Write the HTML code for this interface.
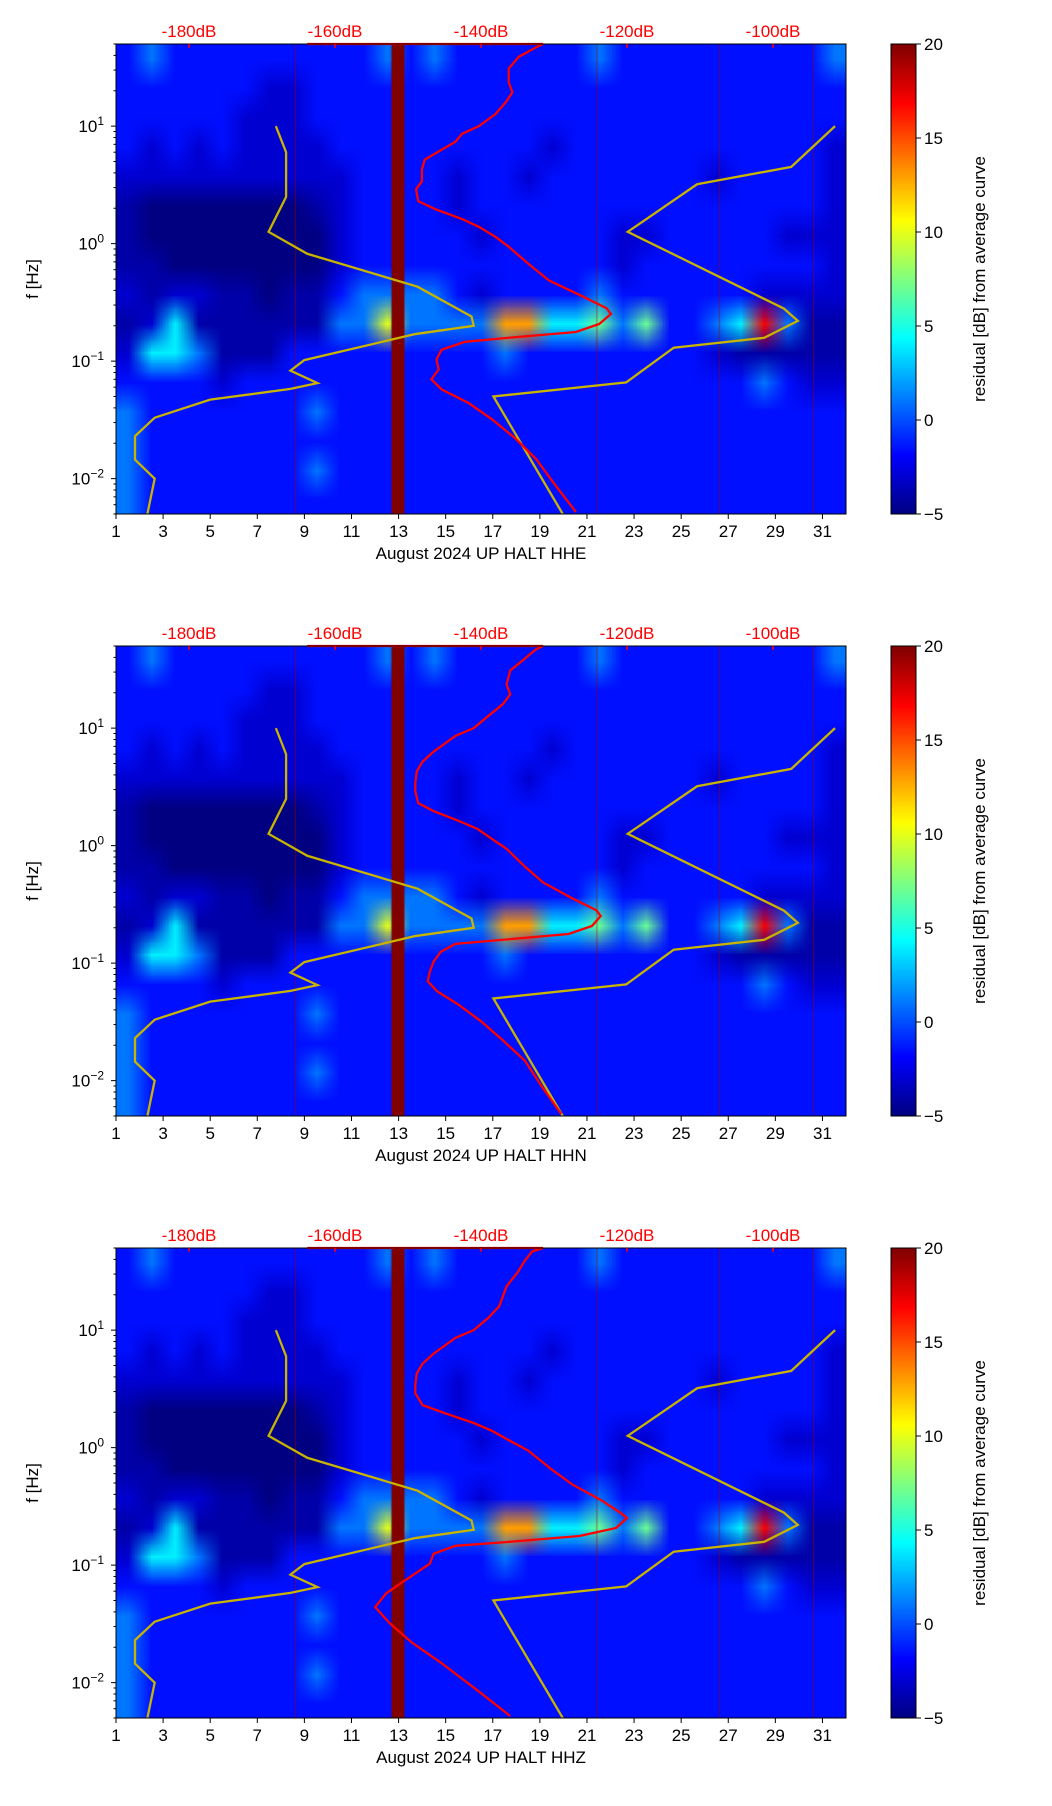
<!DOCTYPE html>
<html><head><meta charset="utf-8"><style>
body{margin:0;background:#fff;}
#wrap{position:relative;width:1052px;height:1806px;overflow:hidden;font-family:"Liberation Sans","DejaVu Sans",sans-serif;}
canvas{position:absolute;}
svg{position:absolute;left:0;top:0;}
</style></head><body>
<div id="wrap">
<svg id="svg" width="1052" height="1806"></svg>
</div>
<script>
// ---- data ----
const stations = ["HHE","HHN","HHZ"];
const dayTicks = [1,3,5,7,9,11,13,15,17,19,21,23,25,27,29,31];
const dbTicks = [-180,-160,-140,-120,-100];
const cbTicks = [20,15,10,5,0,-5];
const yTickExp = [-2,-1,0,1];
// heatmap rows (top 50Hz -> bottom 0.005Hz), columns = days 1..31, codes map to residual dB
const codeValues = [-5,-4,-3,-1.5,1,4,7,10,13,17];
const heatRows = [
"3433333333343433333343333333334",
"3333332233333333333333333333333",
"3333322233333333333333333333333",
"3232322223333333332333333333332",
"2222222222333323323333333233332",
"1000000012333323333333333333332",
"1000000002333332333332233333222",
"1100000002333333333332333333332",
"2122110113444432333343333332222",
"1251111114474444885564633459411",
"2554111333333333433333333211111",
"3333233333333333333333333334322",
"4333333343333333333333333333333",
"4333333333333333333333333333333",
"4333333343333333333333333333333",
"4333333333333333333333333333333"];
const gapDays = [12.7,13.25];
const redLineDays = [8.6,21.4,26.6,30.6];
// Peterson noise models (dB vs Hz)
const nlnmDb = [-185.7,-184.7,-187.4,-187.4,-184.7,-177.1,-166.1,-162.4,-166.1,-164.2,-149.0,-141.0,-141.3,-148.7,-163.8,-169.1,-166.7,-166.7,-168.1];
const nlnmF  = [0.005,0.01,0.0145,0.023,0.033,0.047,0.058,0.065,0.083,0.102,0.17,0.2,0.24,0.43,0.82,1.26,2.5,6.0,10];
const nhnmDb = [-128.8,-138.3,-120.1,-113.6,-101.2,-96.6,-98.5,-119.9,-110.4,-97.5,-91.5];
const nhnmF  = [0.005,0.05,0.066,0.13,0.158,0.22,0.28,1.26,3.2,4.5,10];
// station mean curves
const redF = [50,50,46.7,39,30.9,23.6,19.4,16,12.7,10,8.6,7.36,6.3,5.19,4.28,3.39,2.9,2.3,1.97,1.62,1.39,1.14,0.94,0.664,0.486,0.356,0.282,0.252,0.207,0.177,0.158,0.146,0.125,0.103,0.085,0.07,0.0575,0.044,0.032,0.022,0.0148,0.0086,0.0052];
const redDb1 = [-163.8,-131.5,-132.5,-134.8,-136.2,-136.2,-135.7,-136.6,-138.0,-140.3,-142.6,-143.5,-145.4,-147.7,-148.1,-148.1,-148.9,-148.6,-146.3,-142.6,-140.3,-138.0,-136.2,-133.4,-130.7,-126.1,-122.8,-122.2,-123.8,-127.0,-136.2,-142.2,-145.4,-146.1,-145.8,-146.8,-145.4,-141.7,-138.5,-135.3,-132.5,-129.7,-127.0];
const redDb2 = [-163.8,-131.5,-132.5,-134.0,-136.0,-136.5,-136.0,-137.0,-139.0,-141.0,-143.5,-145.0,-146.5,-148.0,-148.8,-149.0,-149.0,-148.6,-146.5,-143.0,-140.5,-138.5,-136.5,-134.0,-131.5,-127.5,-124.2,-123.6,-124.8,-128.0,-137.0,-143.5,-145.5,-146.5,-147.0,-147.3,-146.0,-143.0,-140.0,-137.0,-134.0,-131.5,-129.0];
const redDb3 = [-163.8,-131.5,-133.0,-134.0,-135.0,-136.5,-137.0,-137.5,-139.0,-141.0,-143.5,-145.0,-146.5,-148.0,-148.8,-149.0,-149.0,-148.0,-145.0,-141.0,-138.5,-136.0,-133.5,-130.5,-127.5,-123.5,-121.0,-120.0,-121.5,-126.5,-136.0,-143.5,-146.5,-147.0,-149.0,-151.0,-153.0,-154.5,-152.5,-149.5,-145.5,-140.5,-136.0];
const redDbs = [redDb1, redDb2, redDb3];

// ---- layout ----
const L=116, R=846, H=470, tops=[44,646,1248];
const logTop=Math.log10(50), logBot=Math.log10(0.005);
const svg=document.getElementById('svg');
const NS='http://www.w3.org/2000/svg';
function el(tag,attrs,parent){const e=document.createElementNS(NS,tag);for(const k in attrs)e.setAttribute(k,attrs[k]);(parent||svg).appendChild(e);return e;}
function jet(t){t=Math.max(0,Math.min(1,t));const c=v=>Math.round(255*Math.max(0,Math.min(1,v)));return [c(1.5-Math.abs(4*t-3)),c(1.5-Math.abs(4*t-2)),c(1.5-Math.abs(4*t-1))];}
function valT(v){return (v+5)/25;}

stations.forEach((st,p)=>{
  const T=tops[p], B=T+H;
  const xDay=d=>L+(d-1)/31*(R-L);
  const xDb=db=>L+(db+190)/100*(R-L);
  const yF=f=>T+(logTop-Math.log10(f))/(logTop-logBot)*H;
  const small=document.createElement('canvas');small.width=31;small.height=heatRows.length;
  const sc=small.getContext('2d');const img=sc.createImageData(31,heatRows.length);
  heatRows.forEach((row,ri)=>{for(let ci=0;ci<31;ci++){const [r,g,b]=jet(valT(codeValues[+row[ci]]));const i=(ri*31+ci)*4;img.data[i]=r;img.data[i+1]=g;img.data[i+2]=b;img.data[i+3]=255;}});
  sc.putImageData(img,0,0);
  const cv=document.createElement('canvas');cv.width=R-L;cv.height=H;cv.style.left=L+'px';cv.style.top=T+'px';
  
  
  const ctx=cv.getContext('2d');ctx.imageSmoothingEnabled=true;ctx.drawImage(small,0,0,R-L,H);
  const gc=jet(1);ctx.fillStyle='rgb('+gc.join(',')+')';
  ctx.fillRect(xDay(gapDays[0])-L,0,xDay(gapDays[1])-xDay(gapDays[0]),H);
  ctx.fillStyle='rgba(160,0,0,0.55)';
  redLineDays.forEach(d=>ctx.fillRect(xDay(d)-L,0,1,H));
  document.getElementById('wrap').insertBefore(cv,svg);
  const cb=document.createElement('canvas');cb.width=25;cb.height=H;cb.style.left='891px';cb.style.top=T+'px';
  
  
  const cbx=cb.getContext('2d');for(let y=0;y<H;y++){const c=jet(1-y/H);cbx.fillStyle='rgb('+c.join(',')+')';cbx.fillRect(0,y,25,1);}
  document.getElementById('wrap').insertBefore(cb,svg);
  const g=el('g',{});
  
  
  const cid='clip'+p;const cp=el('clipPath',{id:cid},g);el('rect',{x:L,y:T-1.5,width:R-L,height:H+1.5},cp);
  const lines=el('g',{'clip-path':'url(#'+cid+')'},g);
  const nl=el('polyline',{points:nlnmDb.map((d,i)=>xDb(d)+','+yF(nlnmF[i])).join(' '),fill:'none',stroke:'#c8b400',"stroke-width":2.3},lines);
  
  
  const nh=el('polyline',{points:nhnmDb.map((d,i)=>xDb(d)+','+yF(nhnmF[i])).join(' '),fill:'none',stroke:'#c8b400',"stroke-width":2.3},lines);
  
  
  const rd=redDbs[p];
  const rc=el('polyline',{points:rd.map((d,i)=>xDb(d)+','+yF(redF[i])).join(' '),fill:'none',stroke:'#ff0000',"stroke-width":2.3},lines);
  
  
  el('rect',{x:L,y:T,width:R-L,height:H,fill:'none',stroke:'#000',"stroke-width":1},g);
  el('rect',{x:891,y:T,width:25,height:H,fill:'none',stroke:'#000',"stroke-width":1},g);
  dbTicks.forEach(db=>{const x=xDb(db);
    el('line',{x1:x,y1:T,x2:x,y2:T+4,stroke:'#f00',"stroke-width":1.5},g);
    const t=el('text',{x:x,y:T-7,'text-anchor':'middle','font-size':17,fill:'#f00'},g);t.textContent=db+'dB';
    
    });
  dayTicks.forEach(d=>{const x=xDay(d);
    el('line',{x1:x,y1:B,x2:x,y2:B+5,stroke:'#000'},g);
    const t=el('text',{x:x,y:B+23,'text-anchor':'middle','font-size':17},g);t.textContent=d;
    
    });
  const xl=el('text',{x:481,y:B+45,'text-anchor':'middle','font-size':17},g);xl.textContent='August 2024 UP HALT  '+st;
  
  
  for(let e=-3;e<=1;e++)for(let m=1;m<10;m++){const f=m*Math.pow(10,e);if(f<0.005||f>50)continue;const y=yF(f);
    el('line',{x1:L,y1:y,x2:L-(m===1?5:2.5),y2:y,stroke:'#000'},g);}
  yTickExp.forEach(e=>{const y=yF(Math.pow(10,e));
    const t=el('text',{x:104,y:y+6,'text-anchor':'end','font-size':17},g);
    
    
    t.appendChild(document.createTextNode('10'));
    const s=el('tspan',{dy:-7,'font-size':12},t);s.textContent=(e<0?'\u2212':'')+Math.abs(e);});
  const yl=el('text',{x:0,y:0,'text-anchor':'middle','font-size':17,transform:'translate(38,'+(T+H/2)+') rotate(-90)'},g);yl.textContent='f [Hz]';
  
  
  cbTicks.forEach(v=>{const y=B-(v+5)/25*H;
    el('line',{x1:916,y1:y,x2:921,y2:y,stroke:'#000'},g);
    const t=el('text',{x:924,y:y+6,'font-size':17},g);t.textContent=v<0?'\u2212'+(-v):v;
    
    });
  const cl=el('text',{x:0,y:0,'text-anchor':'middle','font-size':17,transform:'translate(985,'+(T+H/2)+') rotate(-90)'},g);cl.textContent='residual [dB] from average curve';
  
  
});
</script>
</body></html>
